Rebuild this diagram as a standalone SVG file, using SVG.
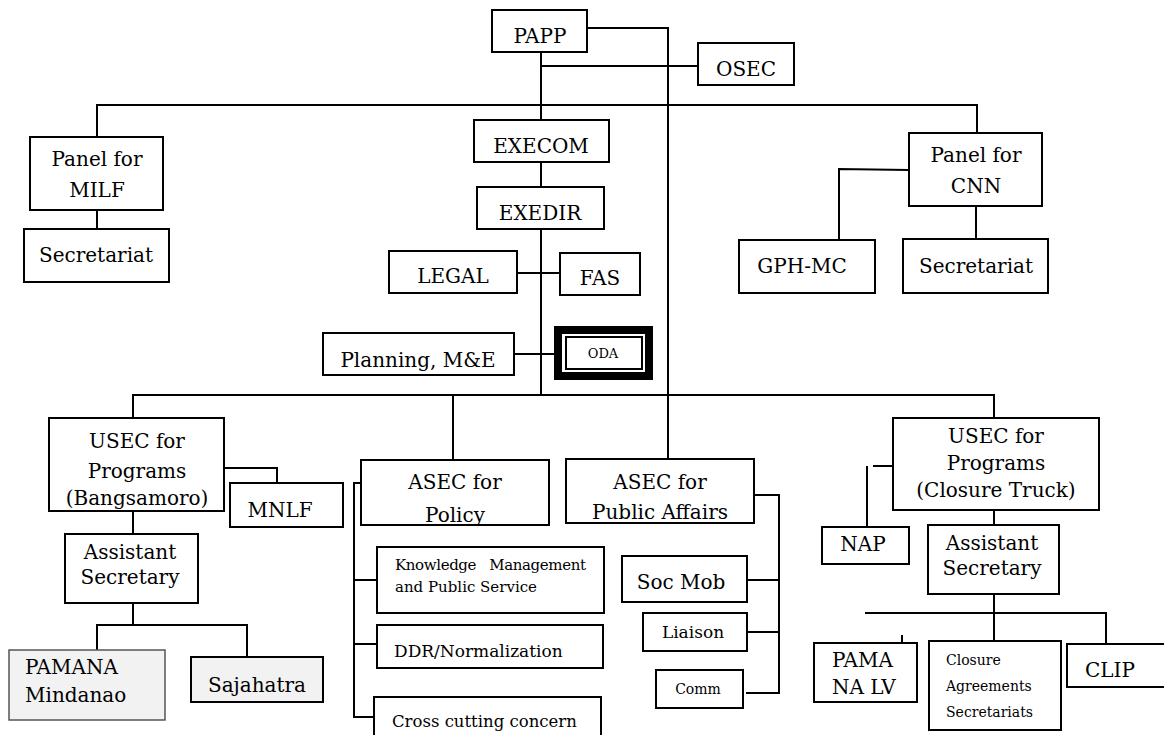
<svg xmlns="http://www.w3.org/2000/svg" width="1164" height="735" viewBox="0 0 1164 735">
<style>
.b{fill:#fff;stroke:#000;stroke-width:2}
.g{fill:#f2f2f2;stroke:#000;stroke-width:2}
.g2{fill:#f2f2f2;stroke:#555;stroke-width:1.5}
.c{fill:none;stroke:#000;stroke-width:2}
text{font-family:"DejaVu Serif","Liberation Serif",serif;fill:#000;font-size:20px}
.m{text-anchor:middle}
.s17{font-size:17px}
.s16{font-size:16.5px}
.s15{font-size:15px}
.s14{font-size:14px}
.s13{font-size:13px}
</style>
<defs>
<clipPath id="cpPol"><rect x="362" y="461" width="186" height="63"/></clipPath>
<clipPath id="cpPA"><rect x="567" y="460" width="186" height="62"/></clipPath>
</defs>
<g id="connectors">
<polyline class="c" points="587,28 668,28 668,459"/>
<line class="c" x1="541" y1="52" x2="541" y2="120"/>
<line class="c" x1="541" y1="66" x2="698" y2="66"/>
<polyline class="c" points="97,137 97,105 977,105 977,133"/>
<line class="c" x1="541" y1="162" x2="541" y2="187"/>
<line class="c" x1="541" y1="229" x2="541" y2="395"/>
<line class="c" x1="517" y1="273" x2="560" y2="273"/>
<line class="c" x1="514" y1="354" x2="555" y2="354"/>
<line class="c" x1="97" y1="210" x2="97" y2="229"/>
<line class="c" x1="976" y1="206" x2="976" y2="239"/>
<polyline class="c" points="909,170 839,169 839,240"/>
<polyline class="c" points="133,418 133,395 994,395 994,418"/>
<line class="c" x1="453" y1="395" x2="453" y2="460"/>
<polyline class="c" points="224,468 277,468 277,483"/>
<line class="c" x1="133" y1="511" x2="133" y2="534"/>
<line class="c" x1="133" y1="603" x2="133" y2="625"/>
<polyline class="c" points="97,650 97,625 247,625 247,657"/>
<polyline class="c" points="361,483 354,483 354,718"/>
<line class="c" x1="354" y1="580" x2="377" y2="580"/>
<line class="c" x1="354" y1="644" x2="377" y2="644"/>
<line class="c" x1="354" y1="717" x2="374" y2="717"/>
<polyline class="c" points="754,495 779,495 779,693 746,693"/>
<line class="c" x1="747" y1="580" x2="779" y2="580"/>
<line class="c" x1="747" y1="632" x2="779" y2="632"/>
<line class="c" x1="873" y1="466" x2="893" y2="466"/>
<line class="c" x1="867" y1="466" x2="867" y2="527"/>
<line class="c" x1="994" y1="510" x2="994" y2="525"/>
<line class="c" x1="994" y1="594" x2="994" y2="641"/>
<polyline class="c" points="865,613 1106,613 1106,644"/>
<line class="c" x1="902" y1="635" x2="902" y2="643"/>
</g>
<g id="papp"><rect class="b" x="492" y="10" width="95" height="42"/><text class="m" x="540" y="43">PAPP</text></g>
<g id="osec"><rect class="b" x="698" y="43" width="96" height="42"/><text class="m" x="746" y="76">OSEC</text></g>
<g id="execom"><rect class="b" x="474" y="120" width="135" height="42"/><text class="m" x="541" y="153">EXECOM</text></g>
<g id="exedir"><rect class="b" x="477" y="187" width="127" height="42"/><text class="m" x="540" y="220">EXEDIR</text></g>
<g id="legal"><rect class="b" x="389" y="251" width="128" height="42"/><text class="m" x="453" y="283">LEGAL</text></g>
<g id="fas"><rect class="b" x="560" y="253" width="80" height="42"/><text class="m" x="600" y="285">FAS</text></g>
<g id="planning"><rect class="b" x="323" y="333" width="191" height="42"/><text class="m" x="418" y="367">Planning, M&amp;E</text></g>
<g id="oda">
<rect x="558" y="330" width="91" height="46" fill="#fff" stroke="#000" stroke-width="8"/>
<rect x="566" y="337" width="76" height="32" fill="#fff" stroke="#000" stroke-width="2"/>
<text class="m s13" x="603" y="358">ODA</text>
</g>
<g id="panel-milf"><rect class="b" x="30" y="137" width="133" height="73"/><text class="m" x="97" y="166">Panel for</text><text class="m" x="97" y="197">MILF</text></g>
<g id="secretariat-milf"><rect class="b" x="24" y="229" width="145" height="53"/><text class="m" x="96" y="262">Secretariat</text></g>
<g id="panel-cnn"><rect class="b" x="909" y="133" width="133" height="73"/><text class="m" x="976" y="162">Panel for</text><text class="m" x="976" y="193">CNN</text></g>
<g id="gph-mc"><rect class="b" x="739" y="240" width="136" height="53"/><text class="m" x="802" y="273">GPH-MC</text></g>
<g id="secretariat-cnn"><rect class="b" x="903" y="239" width="145" height="54"/><text class="m" x="976" y="273">Secretariat</text></g>
<g id="usec-bangsamoro"><rect class="b" x="49" y="418" width="175" height="93"/><text class="m" x="137" y="448">USEC for</text><text class="m" x="137" y="478">Programs</text><text class="m" x="137" y="505">(Bangsamoro)</text></g>
<g id="mnlf"><rect class="b" x="230" y="483" width="113" height="44"/><text class="m" x="280" y="517">MNLF</text></g>
<g id="asst-sec-b"><rect class="b" x="65" y="534" width="133" height="69"/><text class="m" x="130" y="559">Assistant</text><text class="m" x="130" y="584">Secretary</text></g>
<g id="pamana-mindanao"><rect class="g2" x="9" y="650" width="156" height="70"/><text x="25" y="674">PAMANA</text><text x="25" y="702">Mindanao</text></g>
<g id="sajahatra"><rect class="g" x="191" y="657" width="132" height="45"/><text class="m" x="257" y="692">Sajahatra</text></g>
<g id="asec-policy"><rect class="b" x="361" y="460" width="188" height="65"/><g clip-path="url(#cpPol)"><text class="m" x="455" y="489">ASEC for</text><text class="m" x="455" y="522">Policy</text></g></g>
<g id="km"><rect class="b" x="377" y="547" width="227" height="66"/><text class="s15" x="395" y="570" xml:space="preserve" textLength="191" lengthAdjust="spacing">Knowledge   Management</text><text class="s15" x="395" y="592">and Public Service</text></g>
<g id="ddr"><rect class="b" x="377" y="625" width="226" height="43"/><text class="s17" x="394" y="657">DDR/Normalization</text></g>
<g id="cross"><rect class="b" x="374" y="697" width="227" height="50"/><text class="s16" x="392" y="727">Cross cutting concern</text></g>
<g id="asec-pa"><rect class="b" x="566" y="459" width="188" height="64"/><g clip-path="url(#cpPA)"><text class="m" x="660" y="489">ASEC for</text><text class="m" x="660" y="519">Public Affairs</text></g></g>
<g id="socmob"><rect class="b" x="622" y="556" width="125" height="46"/><text class="m" x="681" y="589">Soc Mob</text></g>
<g id="liaison"><rect class="b" x="643" y="613" width="104" height="38"/><text class="m s17" x="693" y="638">Liaison</text></g>
<g id="comm"><rect class="b" x="656" y="670" width="87" height="38"/><text class="m s14" x="698" y="694">Comm</text></g>
<g id="usec-closure"><rect class="b" x="893" y="418" width="206" height="92"/><text class="m" x="996" y="443">USEC for</text><text class="m" x="996" y="470">Programs</text><text class="m" x="996" y="497">(Closure Truck)</text></g>
<g id="nap"><rect class="b" x="822" y="527" width="87" height="37"/><text class="m" x="863" y="551">NAP</text></g>
<g id="asst-sec-c"><rect class="b" x="928" y="525" width="131" height="69"/><text class="m" x="992" y="550">Assistant</text><text class="m" x="992" y="575">Secretary</text></g>
<g id="pamana-lv"><rect class="b" x="814" y="643" width="103" height="59"/><text x="832" y="667">PAMA</text><text x="832" y="694">NA LV</text></g>
<g id="closure-agreements"><rect class="b" x="929" y="641" width="132" height="89"/><text class="s14" x="946" y="665">Closure</text><text class="s14" x="946" y="691">Agreements</text><text class="s14" x="946" y="717">Secretariats</text></g>
<g id="clip"><rect class="b" x="1067" y="644" width="100" height="43"/><text class="m" x="1110" y="677">CLIP</text></g>
</svg>
